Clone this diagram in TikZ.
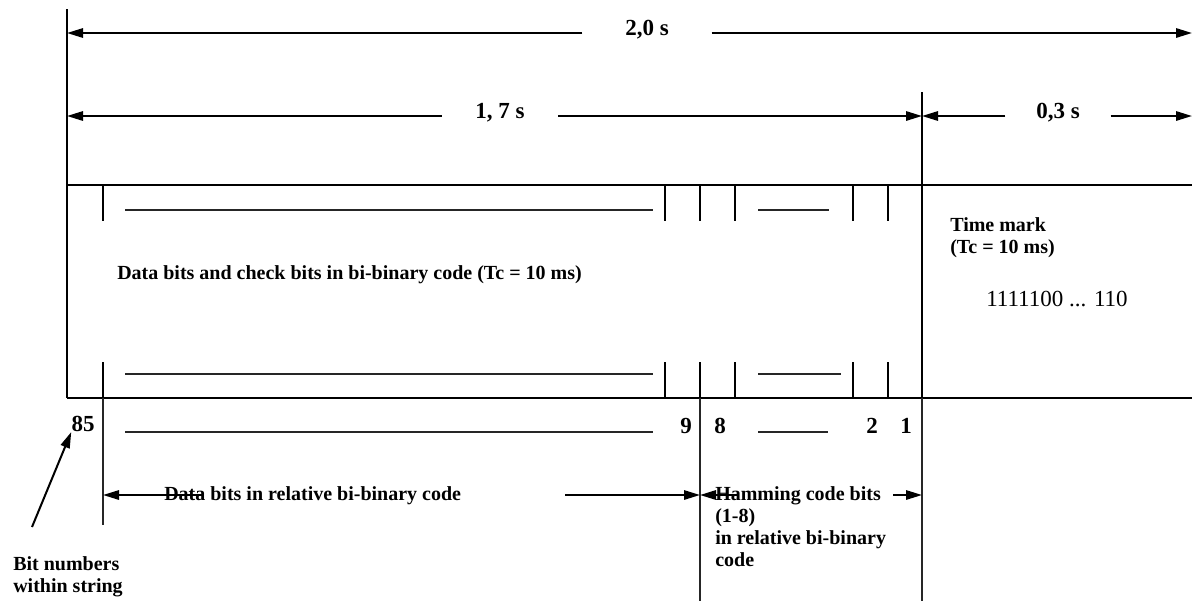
\documentclass[tikz,border=0pt]{standalone}
\usepackage{fontspec}
\setmainfont{Liberation Serif}
\usetikzlibrary{arrows.meta, positioning}

\begin{document}
\begin{tikzpicture}[x=0.75pt, y=-0.75pt,
    dimarrow/.style={line width=1.5pt, -{Triangle[length=12pt,width=7pt]}},
    frame/.style={line width=1pt},
    hairline/.style={line width=0.8pt, black!85},
    bigbold/.style={font=\fontsize{17.25}{20}\selectfont\bfseries, inner ysep=0pt},
    smallbold/.style={font=\fontsize{15}{16.5}\selectfont\bfseries, inner sep=0pt, align=left},
    plain/.style={font=\fontsize{17.25}{20}\selectfont, inner sep=0pt}]
    \useasboundingbox (0,0) rectangle (1192,601);

    % time scale on top
    \coordinate (s0) at (67,33);
    \coordinate (s1) at (1192,33);
    \coordinate (m0) at (67,116);
    \coordinate (m1) at (922,116);
    \coordinate (m2) at (1192,116);
    \node[bigbold, inner xsep=32pt, anchor=base] (t20) at (647,35) {2,0 s};
    \node[bigbold, inner xsep=25pt, anchor=base] (t17) at (500,118) {1, 7 s};
    \node[bigbold, inner xsep=23pt, anchor=base] (t03) at (1058,118) {0,3 s};
    \draw[dimarrow] (t20.west |- s0) -- (s0);
    \draw[dimarrow] (t20.east |- s1) -- (s1);
    \draw[dimarrow] (t17.west |- m0) -- (m0);
    \draw[dimarrow] (t17.east |- m1) -- (m1);
    \draw[dimarrow] (t03.west |- m1) -- (m1);
    \draw[dimarrow] (t03.east |- m2) -- (m2);

    % frame
    \draw[frame] (67,9) -- (67,398);
    \draw[frame] (922,92) -- (922,398);
    \draw[frame] (67,185) -- (1192,185);
    \draw[frame] (67,398) -- (1192,398);
    \foreach \x in {103,665,700,735,853,888} {
        \draw[frame] (\x,185) -- (\x,221);
        \draw[frame] (\x,362) -- (\x,398);
    }
    \draw[hairline] (125,210) -- (653,210);
    \draw[hairline] (758,210) -- (829,210);
    \draw[hairline] (125,374) -- (653,374);
    \draw[hairline] (758,374) -- (841,374);

    \node[smallbold, anchor=base west] (dbits) at (117,279)
        {Data bits and check bits in bi-binary code (Tc = 10 ms)};
    \node[smallbold, anchor=base west] (tmark) at (950,253)
        {Time mark\\(Tc = 10 ms)};
    \node[plain, anchor=base west] (tcode) at (986,306) {1111100 ... 110};

    % bit numbers
    \draw[hairline] (103,398) -- (103,525);
    \draw[hairline] (700,398) -- (700,601);
    \draw[hairline] (922,398) -- (922,601);
    \draw[hairline] (125,432) -- (653,432);
    \draw[hairline] (758,432) -- (828,432);
    \node[bigbold, inner sep=0pt] (b85) at (83,424) {85};
    \node[bigbold, inner sep=0pt] (b9) at (686,426) {9};
    \node[bigbold, inner sep=0pt] (b8) at (720,426) {8};
    \node[bigbold, inner sep=0pt] (b2) at (872,426) {2};
    \node[bigbold, inner sep=0pt] (b1) at (906,426) {1};

    % groups of bits
    \coordinate (g0) at (103,495);
    \coordinate (g1) at (700,495);
    \coordinate (g2) at (922,495);
    \node[smallbold, anchor=base west] (dgroup) at (164,500)
        {Data bits in relative bi-binary code};
    \node[smallbold, anchor=base west] (hgroup) at (715,566)
        {Hamming code bits\\(1-8)\\in relative bi-binary\\code};
    \draw[dimarrow] (202,495) -- (g0);
    \draw[dimarrow] (565,495) -- (g1);
    \draw[dimarrow] (737,495) -- (g1);
    \draw[dimarrow] (893,495) -- (g2);

    \node[smallbold, anchor=base west] (bnum) at (13,592)
        {Bit numbers\\within string};
    \draw[dimarrow] (32,527) -- (b85.south west);
\end{tikzpicture}
\end{document}
